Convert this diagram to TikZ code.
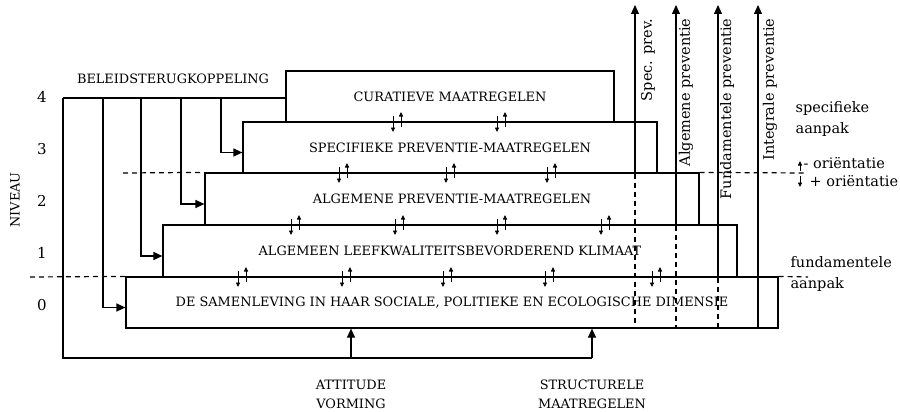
\documentclass[tikz,border=0pt]{standalone}
\usepackage{fontspec}
\setmainfont{DejaVu Serif}
\usetikzlibrary{arrows.meta}
\begin{document}
\begin{tikzpicture}[x=1pt,y=-1pt,line width=1.2pt,
  box/.style={draw, inner sep=0pt, font=\fontsize{12.9}{15}\selectfont},
  big/.style={-{Triangle[length=9pt,width=8pt]}},
  sm/.style={-{Triangle[length=4.5pt,width=4pt]}, line width=0.8pt},
  dsh/.style={dash pattern=on 5pt off 4pt},
  caps/.style={font=\fontsize{12.9}{15}\selectfont, inner sep=0pt},
  lc/.style={font=\fontsize{14.5}{17}\selectfont, inner sep=0pt},
  num/.style={font=\fontsize{15}{18}\selectfont, inner sep=0pt}]
\useasboundingbox (0,0) rectangle (900,412);

% boxes
\node[box, minimum width=328pt, minimum height=51pt] (cur) at (450,96.5) {CURATIEVE MAATREGELEN};
\node[box, minimum width=414pt, minimum height=51pt] (spec) at (450,147.5) {SPECIFIEKE PREVENTIE-MAATREGELEN};
\node[box, minimum width=494pt, minimum height=52pt] (alg) at (452,199) {ALGEMENE PREVENTIE-MAATREGELEN};
\node[box, minimum width=574pt, minimum height=52pt] (leef) at (450,251) {ALGEMEEN LEEFKWALITEITSBEVORDEREND KLIMAAT};
\node[box, minimum width=652pt, minimum height=51pt] (samen) at (452,302.5) {DE SAMENLEVING IN HAAR SOCIALE, POLITIEKE EN ECOLOGISCHE DIMENSIE};

% feedback
\coordinate (fbA) at (63,98);
\coordinate (f1) at (221,98);
\coordinate (f2) at (181,98);
\coordinate (f3) at (141,98);
\coordinate (f4) at (103,98);
\draw (fbA) -- (fbA -| cur.west);
\draw[big] (f1) |- ([yshift=-5pt]spec.west);
\draw[big] (f2) |- ([yshift=-5pt]alg.west);
\draw[big] (f3) |- ([yshift=-5pt]leef.west);
\draw[big] (f4) |- ([yshift=-5pt]samen.west);
\node[caps, anchor=base] (beleid) at (173,84) {BELEIDSTERUGKOPPELING};

% bottom loop
\coordinate (bl) at (63,358);
\coordinate (ba) at (351,358);
\coordinate (bs) at (592,358);
\draw (fbA) -- (bl) -- (bs);
\draw[big] (ba) -- (ba |- samen.south);
\draw[big] (bs) -- (bs |- samen.south);
\node[caps, anchor=base] (att1) at (351,389) {ATTITUDE};
\node[caps, anchor=base] (att2) at (351,408) {VORMING};
\node[caps, anchor=base] (str1) at (592,389) {STRUCTURELE};
\node[caps, anchor=base] (str2) at (592,408) {MAATREGELEN};

% vertical prevention arrows
\coordinate (tSp) at (635,5);
\coordinate (tAl) at (676,5);
\coordinate (tFu) at (718,5);
\coordinate (tIn) at (758,5);
\draw[big] (tSp |- spec.south) -- (tSp);
\draw[dsh] (tSp |- spec.south) -- (tSp |- samen.south);
\draw[big] (tAl |- alg.south) -- (tAl);
\draw[dsh] (tAl |- alg.south) -- (tAl |- samen.south);
\draw[big] (tFu |- leef.south) -- (tFu);
\draw[dsh] (tFu |- leef.south) -- (tFu |- samen.south);
\draw[big] (tIn |- samen.south) -- (tIn);
\node[lc, rotate=90, anchor=east] (lSp) at (648,18) {Spec. prev.};
\node[lc, rotate=90, anchor=east] (lAl) at (686,18) {Algemene preventie};
\node[lc, rotate=90, anchor=east] (lFu) at (727,18) {Fundamentele preventie};
\node[lc, rotate=90, anchor=east] (lIn) at (770,18) {Integrale preventie};

% dashed horizontals
\coordinate (d1) at (123,173);
\coordinate (d2) at (806,173);
\coordinate (d3) at (30,277);
\coordinate (d4) at (808,277);
\draw[dsh] (d1) -- (alg.north west);
\draw[dsh] (alg.north east) -- (d2);
\draw[dsh] (d3) -- (samen.north west);
\draw[dsh] (samen.north east) -- (d4);

% orientation
\coordinate (o0) at (800,171);
\coordinate (o1) at (800,161);
\coordinate (o2) at (800,176);
\coordinate (o3) at (800,187);
\draw[sm] (o0) -- (o1);
\draw[sm] (o2) -- (o3);
\node[lc, anchor=base west] (om) at (803,168) {- oriëntatie};
\node[lc, anchor=base west] (op) at (809,186) {+ oriëntatie};
\node[lc, anchor=base west] (sa1) at (795,112) {specifieke};
\node[lc, anchor=base west] (sa2) at (795,133) {aanpak};
\node[lc, anchor=base west] (fa1) at (790,267) {fundamentele};
\node[lc, anchor=base west] (fa2) at (790,288) {aanpak};

% levels
\node[num] (n4) at (42,97) {4};
\node[num] (n3) at (42,149) {3};
\node[num] (n2) at (42,201) {2};
\node[num] (n1) at (42,253) {1};
\node[num] (n0) at (42,305) {0};
\node[caps, rotate=90] (niv) at (15,200) {NIVEAU};

% exchange marks
\foreach \x/\y in {393/122,497/122,339/173,446/173,547/173,291/225,395/225,497/225,601/225,238/277,342/277,443/277,545/277,652/277}{
  \draw[sm] (\x,\y-6) -- (\x,\y+10);
  \draw[sm] (\x+8,\y+5) -- (\x+8,\y-10);
}
\end{tikzpicture}
\end{document}
